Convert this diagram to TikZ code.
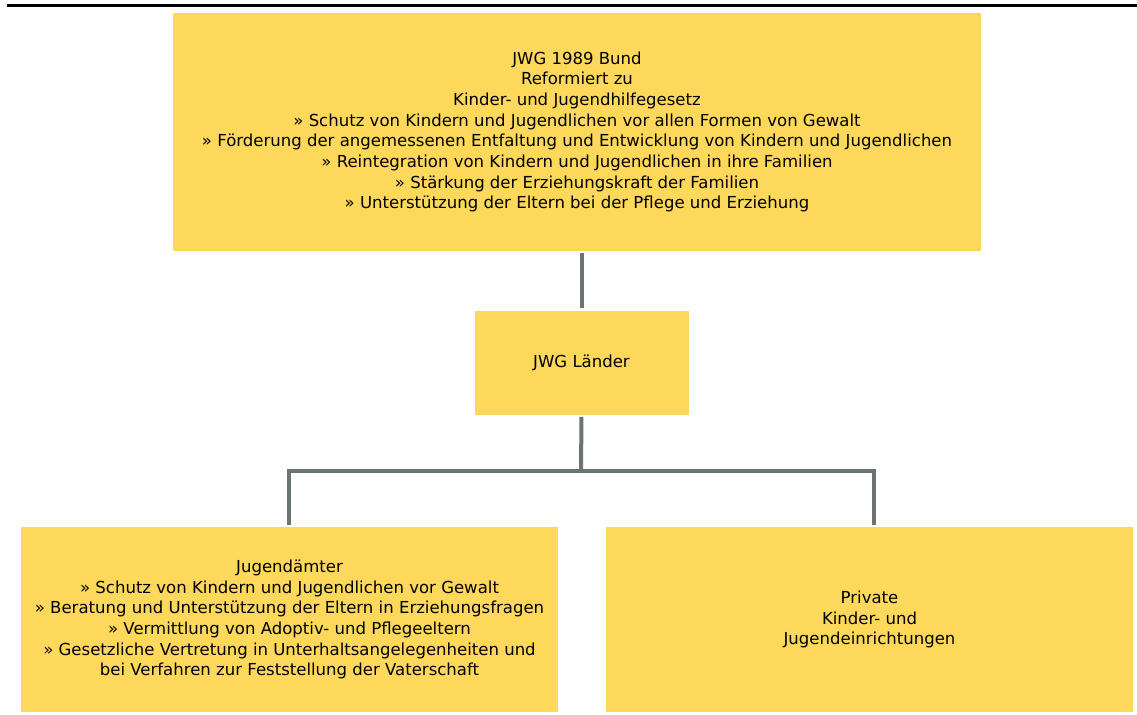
\documentclass[tikz,border=0pt]{standalone}
\usepackage{fontspec}
\setmainfont{DejaVu Sans}

\definecolor{boxyellow}{HTML}{FED85A}
\definecolor{linegray}{HTML}{6A7570}

\begin{document}
\begin{tikzpicture}[x=0.75pt, y=-0.75pt,
    every node/.style={font=\fontsize{12.4}{15.5}\selectfont, align=center},
    kasten/.style={fill=boxyellow, inner sep=0pt},
    linie/.style={draw=linegray, line width=3pt, line join=miter, shorten <=1.5pt, shorten >=1.5pt}]

    \useasboundingbox (0,0) rectangle (1137,714);

    % Kopflinie
    \draw[line width=2.25pt] (7,5.5) -- (1137,5.5);

    % Kästen
    \node[kasten, minimum width=606pt, minimum height=178.5pt] (bund) at (577,132)
        {JWG 1989 Bund\\Reformiert zu\\Kinder- und Jugendhilfegesetz\\
         » Schutz von Kindern und Jugendlichen vor allen Formen von Gewalt\\
         » Förderung der angemessenen Entfaltung und Entwicklung von Kindern und Jugendlichen\\
         » Reintegration von Kindern und Jugendlichen in ihre Familien\\
         » Stärkung der Erziehungskraft der Familien\\
         » Unterstützung der Eltern bei der Pflege und Erziehung};
    \node[kasten, minimum width=160.5pt, minimum height=78pt] (laender) at (581.5,362.5) {JWG Länder};
    \node[kasten, minimum width=402.75pt, minimum height=138.75pt] (jugendamt) at (289.5,619.5)
        {Jugendämter\\
         » Schutz von Kindern und Jugendlichen vor Gewalt\\
         » Beratung und Unterstützung der Eltern in Erziehungsfragen\\
         » Vermittlung von Adoptiv- und Pflegeeltern\\
         » Gesetzliche Vertretung in Unterhaltsangelegenheiten und\\
         bei Verfahren zur Feststellung der Vaterschaft};
    \node[kasten, minimum width=395.25pt, minimum height=138.75pt] (privat) at (869.5,619.5)
        {Private\\Kinder- und\\Jugendeinrichtungen};

    % Verbindungen
    \coordinate (verteiler) at (581,471);
    \draw[linie] (bund.south -| laender.north) -- (laender.north);
    \draw[linie, shorten >=0pt] (laender.south) -- (verteiler);
    \draw[linie] ([xshift=-0.4pt]jugendamt.north) |- (verteiler) -| ([xshift=3.4pt]privat.north);
\end{tikzpicture}
\end{document}
